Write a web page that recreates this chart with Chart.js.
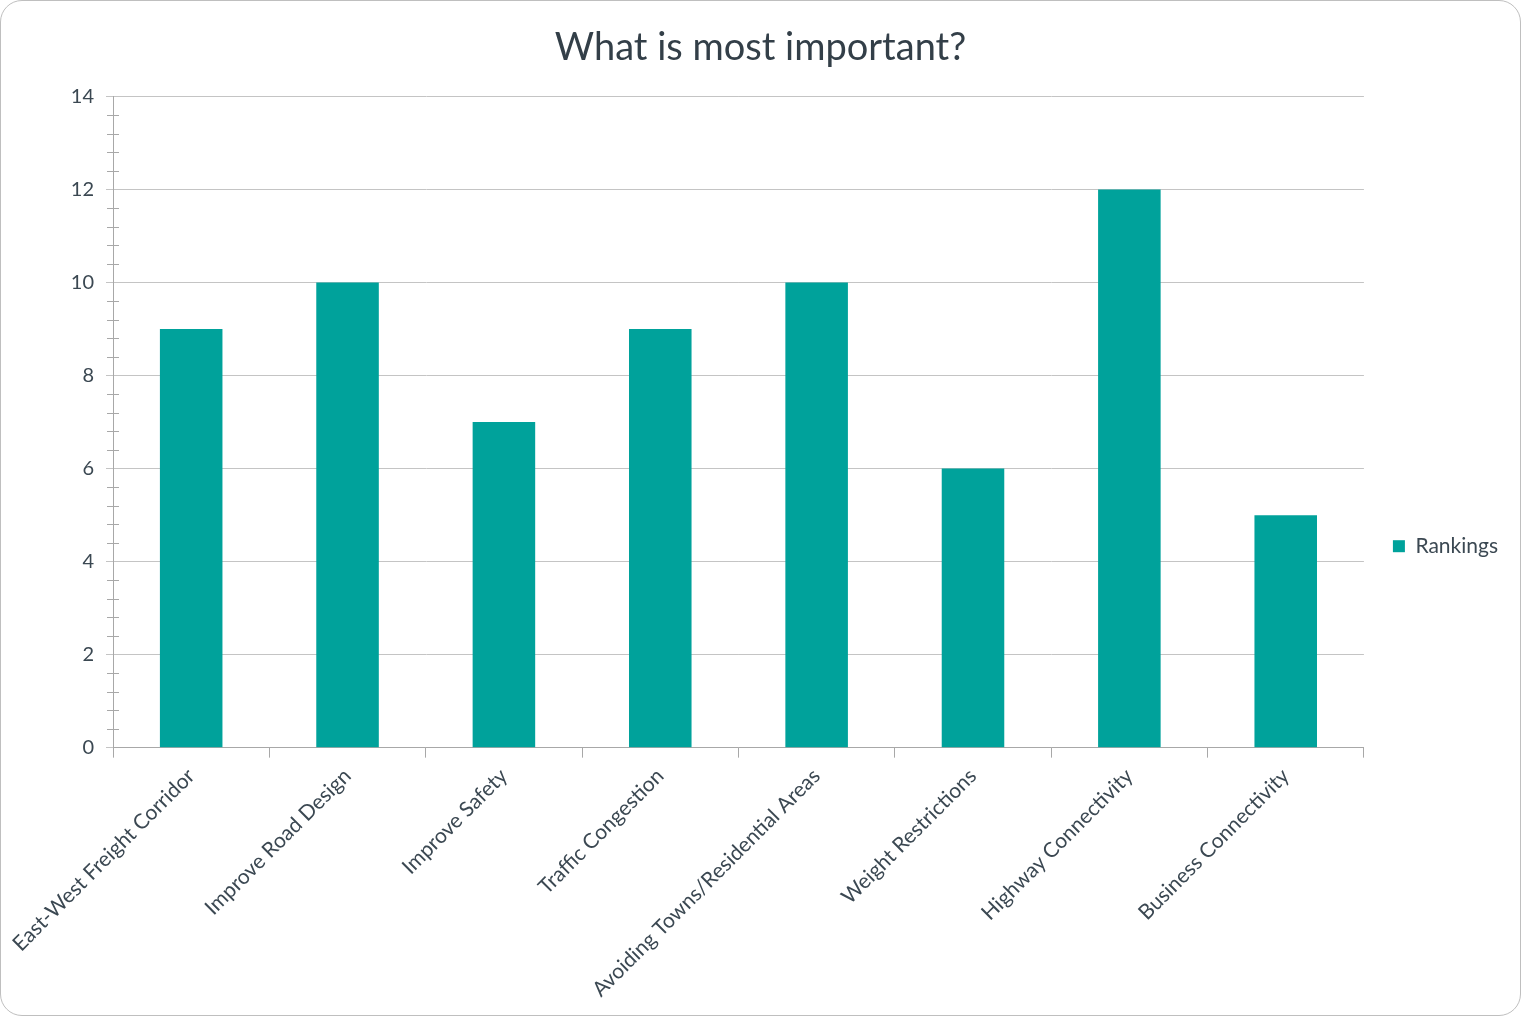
<!DOCTYPE html>
<html>
<head>
<meta charset="utf-8">
<script src="https://cdn.jsdelivr.net/npm/chart.js@4"></script>
<style>
  body { margin: 0; background: #fff; }
  #wrap {
    width: 1521px; height: 1016px; box-sizing: border-box;
    border: 1px solid #bfbfbf; border-radius: 22px; overflow: hidden;
  }
</style>
</head>
<body>
<div id="wrap"><canvas id="myChart" width="1519" height="1014"></canvas></div>
<script>
let categories = ['East-West Freight Corridor', 'Improve Road Design', 'Improve Safety', 'Traffic Congestion',
  'Avoiding Towns/Residential Areas', 'Weight Restrictions', 'Highway Connectivity', 'Business Connectivity']
let rankings = [9, 10, 7, 9, 10, 6, 12, 5]
let yMax = 14
let yStep = 2

let textColor = '#3b4852'
let gridColor = '#c4c4c4'
let axisColor = '#a8a8a8'

// small ticks between the labelled ones on the value axis
const minorTicks = {
    id: 'minorTicks',
    afterDraw(chart) {
        const ctx = chart.ctx
        const y = chart.scales.y
        const x0 = chart.chartArea.left
        ctx.save()
        ctx.strokeStyle = axisColor
        ctx.lineWidth = 1
        for (let i = 0; i <= yMax * 5 / yStep; i++) {
            if (i % 5 === 0) continue
            const py = Math.round(y.getPixelForValue(i * yStep / 5)) + 0.5
            ctx.beginPath()
            ctx.moveTo(x0 - 6, py)
            ctx.lineTo(x0 + 6, py)
            ctx.stroke()
        }
        ctx.restore()
    }
}

let ctx = document.getElementById('myChart').getContext('2d')

const barChart = new Chart(ctx, {
    type: 'bar',
    data: {
        labels: categories,
        datasets: [{
            label: 'Rankings',
            data: rankings,
            backgroundColor: '#00a29b',
            barPercentage: 0.4,
            categoryPercentage: 1
        }]
    },
    options: {
        responsive: false,
        animation: false,
        layout: { padding: { top: 11, right: 12, left: 12, bottom: 7 } },
        plugins: {
            title: {
                display: true,
                text: 'What is most important?',
                color: '#333f48',
                font: { family: 'Lato', size: 38, weight: 'normal' },
                padding: { top: 13, bottom: 26 }
            },
            legend: {
                position: 'right',
                title: { display: true, text: '', padding: 29 },
                labels: {
                    color: textColor,
                    font: { family: 'Lato', size: 21 },
                    boxWidth: 12,
                    boxHeight: 12,
                    padding: 29
                }
            },
            tooltip: { enabled: false }
        },
        scales: {
            x: {
                grid: {
                    offset: true,
                    drawOnChartArea: false,
                    drawTicks: true,
                    tickLength: 10,
                    color: axisColor
                },
                border: { color: axisColor },
                ticks: {
                    color: textColor,
                    font: { family: 'Lato', size: 21 },
                    minRotation: 45,
                    maxRotation: 45,
                    autoSkip: false,
                    padding: 6
                }
            },
            y: {
                min: 0,
                max: yMax,
                afterFit(scale) { scale.width = 100 },
                grid: {
                    color: gridColor,
                    tickLength: 7
                },
                border: { color: axisColor },
                ticks: {
                    stepSize: yStep,
                    color: textColor,
                    font: { family: 'Lato', size: 20 },
                    padding: 12
                }
            }
        }
    },
    plugins: [minorTicks]
})
</script>
</body>
</html>
